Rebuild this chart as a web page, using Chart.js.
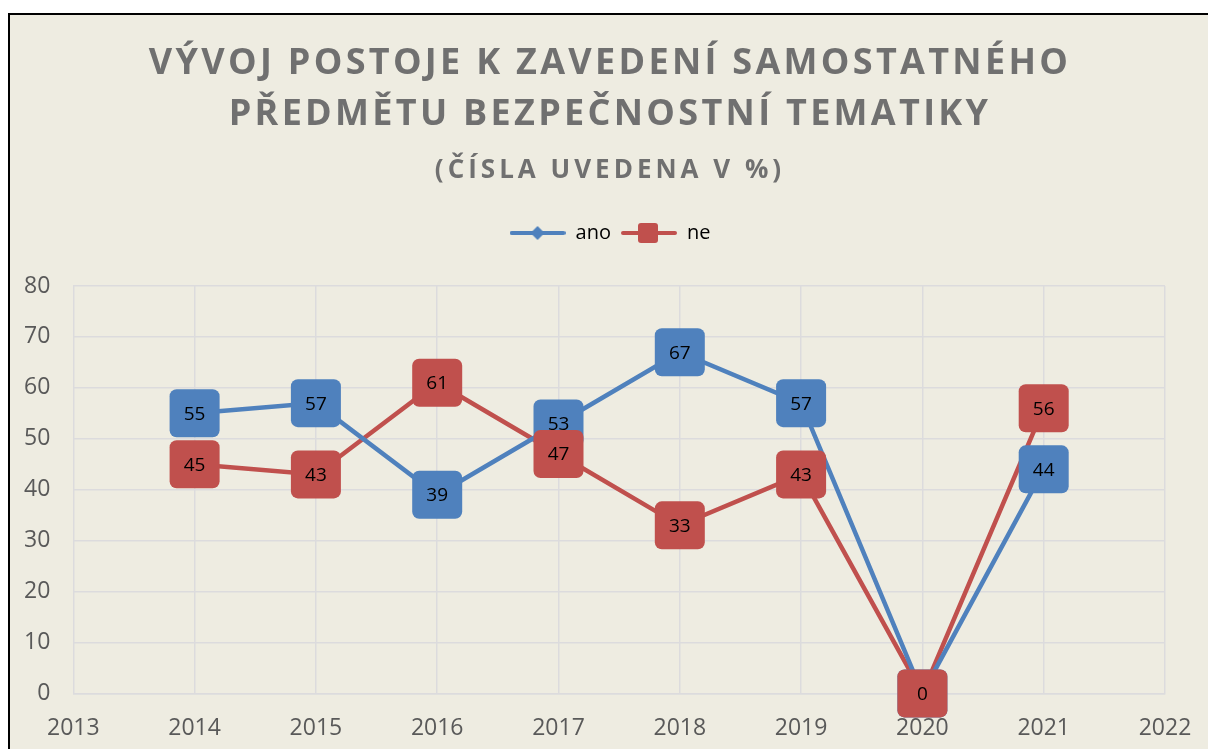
<!DOCTYPE html>
<html>
<head>
<meta charset="utf-8">
<script src="https://cdn.jsdelivr.net/npm/chart.js@4.4.1/dist/chart.umd.min.js"></script>
<style>
  html, body { margin: 0; padding: 0; background: #fff; }
  #frame {
    position: absolute; left: 8px; top: 13px;
    width: 1198px; height: 734px;
    border-left: 2px solid #000; border-top: 2px solid #000;
    background: #EEECE1;
  }
</style>
</head>
<body>
<div id="frame"><canvas id="chart"></canvas></div>
<script>
const years = [2014, 2015, 2016, 2017, 2018, 2019, 2020, 2021];
const ano = [55, 57, 39, 53, 67, 57, 0, 44];
const ne = [45, 43, 61, 47, 33, 43, 0, 56];
const titleLines = ['VÝVOJ POSTOJE K ZAVEDENÍ SAMOSTATNÉHO', 'PŘEDMĚTU BEZPEČNOSTNÍ TEMATIKY'];
const subtitleText = '(ČÍSLA UVEDENA V %)';

const BLUE = '#4F81BD';
const RED = '#C0504D';
const GRID = '#DCDBDD';
const FONT = "'Open Sans', sans-serif";

// Title/subtitle drawn by Chart.js, but with letter spacing like the original
const TitleEl = Chart.Title._element;
const origTitleDraw = TitleEl.prototype.draw;
TitleEl.prototype.draw = function () {
  const ctx = this.ctx;
  const prev = ctx.letterSpacing;
  ctx.letterSpacing = this.options.font.size > 30 ? '3.3px' : '4px';
  origTitleDraw.call(this);
  ctx.letterSpacing = prev || '0px';
};

// legend symbols: line with marker
function legendIcon(color, marker) {
  const c = document.createElement('canvas');
  c.width = 56; c.height = 24;
  const g = c.getContext('2d');
  g.strokeStyle = color; g.lineWidth = 4; g.lineCap = 'round';
  g.beginPath(); g.moveTo(2, 12); g.lineTo(54, 12); g.stroke();
  g.fillStyle = color;
  if (marker === 'diamond') {
    g.beginPath(); g.moveTo(28, 5); g.lineTo(35, 12); g.lineTo(28, 19); g.lineTo(21, 12); g.closePath(); g.fill();
  } else {
    g.beginPath(); g.roundRect(17, 2, 20, 20, 3); g.fill();
  }
  return c;
}

// rounded boxes with the value, on top of lines
const valueBoxes = {
  id: 'valueBoxes',
  afterDatasetsDraw(chart) {
    const ctx = chart.ctx;
    ctx.save();
    ctx.font = '19px ' + FONT;
    ctx.textAlign = 'center';
    ctx.textBaseline = 'middle';
    chart.data.datasets.forEach((ds, i) => {
      const meta = chart.getDatasetMeta(i);
      meta.data.forEach((pt, j) => {
        ctx.fillStyle = ds.borderColor;
        ctx.beginPath();
        ctx.roundRect(pt.x - 25, pt.y - 24, 50, 48, 7);
        ctx.fill();
        ctx.fillStyle = '#000';
        ctx.fillText(String(ds.data[j].y), pt.x, pt.y + 1);
      });
    });
    ctx.restore();
  }
};

// empty gap between legend and plot area
const legendGap = {
  id: 'legendGap',
  beforeInit(chart) {
    Chart.layouts.addBox(chart, {
      position: 'top', weight: 10, fullSize: true, options: {},
      isHorizontal() { return true; },
      update(w) { this.width = w; this.height = 33; },
      draw() {}
    });
  }
};

new Chart(document.getElementById('chart'), {
  type: 'line',
  data: {
    datasets: [
      {
        label: 'ano',
        data: years.map((y, i) => ({ x: y, y: ano[i] })),
        borderColor: BLUE, backgroundColor: BLUE,
        borderWidth: 4.5, pointRadius: 0, pointHoverRadius: 0,
        pointStyle: legendIcon(BLUE, 'diamond')
      },
      {
        label: 'ne',
        data: years.map((y, i) => ({ x: y, y: ne[i] })),
        borderColor: RED, backgroundColor: RED,
        borderWidth: 4.5, pointRadius: 0, pointHoverRadius: 0,
        pointStyle: legendIcon(RED, 'square')
      }
    ]
  },
  options: {
    responsive: true,
    maintainAspectRatio: false,
    animation: false,
    layout: { padding: { left: 14, right: 12, top: 0, bottom: 7 } },
    plugins: {
      title: {
        display: true,
        text: titleLines,
        color: '#707070',
        font: { family: FONT, size: 36, weight: 'bold', lineHeight: 1.4 },
        padding: { top: 24, bottom: 4 }
      },
      subtitle: {
        display: true,
        text: subtitleText,
        color: '#707070',
        font: { family: FONT, size: 26, weight: 'bold', lineHeight: 1.2 },
        padding: { top: 11, bottom: 27 }
      },
      legend: {
        display: true,
        position: 'top',
        labels: {
          usePointStyle: true,
          pointStyleWidth: 56,
          padding: 10,
          color: '#000',
          font: { family: FONT, size: 20 }
        }
      },
      tooltip: { enabled: false }
    },
    scales: {
      x: {
        type: 'linear',
        min: 2013, max: 2022,
        ticks: {
          stepSize: 1, padding: 0,
          color: '#595959',
          font: { family: FONT, size: 23 },
          callback: v => String(v)
        },
        grid: { color: GRID, lineWidth: 1.5, drawTicks: true, tickLength: 21, tickColor: 'rgba(0,0,0,0)' },
        border: { color: GRID, width: 1.5 },
        afterFit(s) { s.paddingLeft = 0; s.paddingRight = 43; }
      },
      y: {
        min: 0, max: 80,
        ticks: {
          stepSize: 10, padding: 0,
          color: '#595959',
          font: { family: FONT, size: 23 }
        },
        grid: { color: GRID, lineWidth: 1.5, drawTicks: true, tickLength: 23, tickColor: 'rgba(0,0,0,0)' },
        border: { display: false },
        afterFit(s) { s.paddingTop = 0; s.paddingBottom = 0; }
      }
    }
  },
  plugins: [legendGap, valueBoxes]
});
</script>
</body>
</html>
